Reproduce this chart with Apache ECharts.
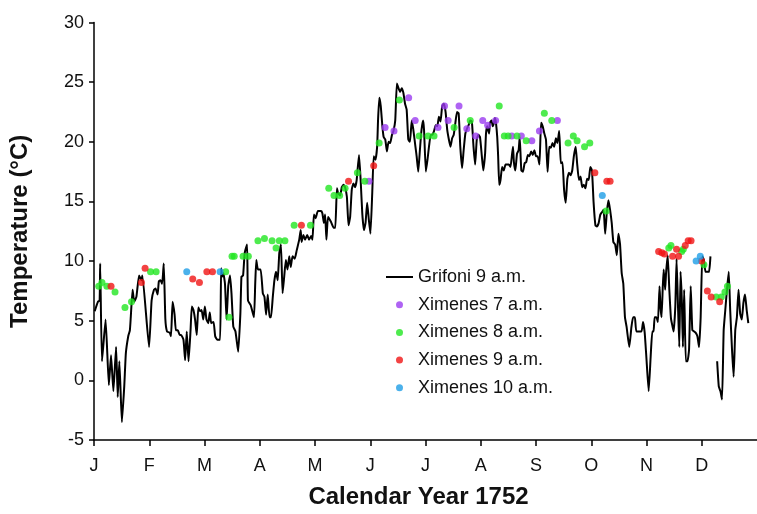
<!DOCTYPE html>
<html><head><meta charset="utf-8">
<script src="https://cdn.jsdelivr.net/npm/echarts@6/dist/echarts.min.js"></script>
<style>html,body{margin:0;padding:0;background:#fff}#c{width:757px;height:514px}</style>
</head><body><div id="c"></div>
<script>
// Day of year 1752 (0 = 1 Jan) and temperature (°C)
const monthLabels = ['J','F','M','A','M','J','J','A','S','O','N','D'];
const daysPerTick = 30.5;
const grifoni = [[0.4,5.8],[2.2,6.6],[3.1,6.7],[3.4,9.8],[4.4,1.6],[6.4,5.1],[8.2,-0.4],[9.4,2.1],[10.7,-0.9],[12.2,2.8],[13.1,-1.4],[14.0,1.6],[15.4,-3.5],[16.7,-0.5],[17.6,2.3],[18.9,3.7],[19.8,4.2],[20.3,5.3],[21.3,7.6],[22.2,6.6],[23.4,7.0],[24.9,8.8],[26.2,8.4],[26.7,8.8],[30.4,2.8],[31.8,6.7],[33.1,7.6],[34.0,7.7],[35.1,7.2],[35.8,8.3],[36.7,8.4],[37.6,8.1],[38.5,9.8],[39.4,5.1],[40.3,4.1],[41.8,4.0],[42.5,3.7],[43.4,6.6],[44.5,5.5],[45.2,4.2],[46.3,4.2],[47.3,3.8],[48.1,3.8],[49.4,3.4],[50.3,1.7],[51.2,4.1],[52.2,1.6],[53.3,4.2],[54.0,6.2],[54.9,5.9],[55.8,5.1],[56.7,3.8],[57.6,6.1],[58.5,5.8],[59.4,5.9],[60.3,5.1],[61.2,6.2],[62.1,5.1],[63.1,4.8],[63.9,5.7],[64.7,4.8],[66.0,4.9],[66.9,3.7],[68.1,3.4],[69.6,3.4],[70.2,9.4],[70.9,8.7],[71.4,9.0],[72.3,8.1],[73.2,5.1],[74.1,7.9],[75.1,8.8],[75.9,7.3],[76.9,4.5],[78.1,4.1],[79.6,2.4],[80.8,5.6],[81.4,8.7],[82.3,8.8],[83.2,10.7],[84.5,11.4],[85.0,6.7],[86.5,6.3],[88.3,5.3],[89.0,8.1],[89.6,10.1],[90.5,9.3],[92.0,9.3],[93.2,7.3],[94.1,7.0],[95.0,5.5],[95.9,7.2],[96.9,5.3],[97.7,5.3],[98.7,7.0],[99.6,8.4],[100.5,9.1],[101.4,8.4],[102.3,10.7],[103.2,11.4],[104.1,7.3],[105.0,8.7],[105.9,10.1],[106.8,9.3],[107.8,10.4],[108.6,9.5],[109.6,10.4],[110.8,10.2],[111.9,10.9],[113.3,11.8],[114.1,12.6],[114.6,11.6],[115.6,12.2],[116.5,11.8],[117.7,12.2],[118.7,11.8],[119.9,12.1],[120.6,11.8],[121.4,13.9],[122.3,13.6],[123.6,14.2],[125.4,14.2],[126.1,14.0],[126.9,13.2],[127.6,13.9],[128.3,11.8],[129.2,13.7],[130.8,13.3],[132.3,12.8],[133.2,12.8],[134.1,16.1],[134.8,15.7],[135.9,15.5],[136.8,16.2],[137.8,16.4],[138.6,16.2],[139.6,15.4],[140.5,13.0],[141.4,13.7],[142.3,16.0],[143.2,16.5],[144.1,16.2],[145.0,16.8],[146.3,18.9],[147.2,16.8],[148.1,14.0],[149.0,12.6],[149.9,13.2],[150.8,14.9],[151.7,13.5],[152.6,12.3],[153.6,15.7],[154.4,18.8],[155.4,18.5],[156.3,19.6],[156.8,21.8],[157.5,23.7],[158.3,23.0],[159.2,21.3],[159.9,20.4],[160.8,20.2],[161.7,19.2],[162.6,20.0],[163.5,19.9],[164.5,20.6],[165.3,20.9],[166.3,21.8],[167.2,24.9],[168.1,24.5],[169.0,24.2],[169.9,24.5],[170.8,24.1],[171.7,23.2],[172.6,22.7],[173.5,20.2],[174.4,20.0],[175.4,21.8],[176.2,21.1],[177.2,19.9],[178.1,18.8],[179.0,17.5],[179.9,19.3],[180.8,21.0],[181.7,21.8],[182.2,21.0],[183.2,17.5],[184.1,18.5],[185.0,19.7],[185.9,20.6],[186.8,20.6],[187.7,20.9],[188.6,21.4],[189.5,21.3],[190.4,22.1],[191.3,21.7],[192.2,23.0],[193.1,23.2],[194.1,22.5],[195.0,21.0],[195.9,20.2],[196.8,19.6],[197.7,20.3],[198.6,20.6],[199.5,21.6],[200.4,22.5],[201.3,22.4],[202.2,19.6],[203.2,17.8],[204.0,19.2],[205.0,20.7],[205.9,21.1],[206.8,21.4],[207.7,21.8],[208.6,21.7],[209.5,19.6],[210.4,18.1],[211.3,20.2],[212.2,20.6],[213.1,20.4],[214.1,18.8],[214.9,17.6],[215.9,19.0],[216.4,20.7],[217.1,21.3],[218.1,20.7],[218.6,21.6],[219.5,21.8],[220.1,21.3],[220.8,21.6],[221.3,22.0],[221.9,21.6],[222.6,20.4],[223.1,18.8],[223.7,16.4],[224.4,16.8],[225.3,17.9],[226.2,17.6],[227.2,18.1],[229.0,18.1],[229.9,17.9],[230.8,19.0],[231.3,19.6],[231.8,18.3],[232.6,17.6],[233.5,19.0],[234.4,19.3],[235.0,20.4],[235.9,17.6],[236.8,17.5],[237.7,18.2],[238.6,18.3],[239.5,18.9],[240.4,18.8],[241.3,19.2],[242.2,18.9],[243.1,19.3],[244.0,18.8],[244.9,18.8],[245.9,18.1],[246.8,21.6],[247.7,21.3],[248.6,20.7],[249.5,20.2],[250.4,17.5],[251.3,19.6],[252.2,19.5],[253.1,19.9],[254.0,19.6],[255.0,20.3],[255.8,19.9],[256.8,20.9],[257.7,18.2],[258.6,18.3],[259.5,16.0],[260.4,14.9],[261.3,16.9],[262.2,17.4],[263.1,17.2],[264.0,17.6],[264.9,18.8],[265.9,19.6],[266.7,18.2],[267.7,16.8],[268.6,17.1],[269.5,16.2],[270.4,16.4],[271.3,16.1],[272.2,16.9],[273.1,16.8],[274.0,17.9],[274.9,17.6],[275.8,14.9],[276.8,13.0],[277.6,12.9],[278.6,13.2],[279.5,13.9],[280.4,14.1],[281.3,14.3],[282.2,12.3],[283.1,14.1],[284.0,15.1],[284.9,14.3],[285.8,13.2],[286.7,11.6],[287.7,11.4],[288.6,10.5],[289.5,12.3],[290.4,11.4],[291.3,9.0],[292.2,8.1],[293.1,5.3],[294.0,4.5],[295.5,2.8],[296.7,4.5],[297.6,5.3],[298.6,5.3],[299.4,4.1],[302.2,4.1],[303.1,4.9],[304.0,4.0],[304.9,2.0],[306.2,-0.9],[307.3,2.0],[308.2,4.1],[308.9,4.1],[309.5,5.3],[310.4,5.3],[311.3,4.9],[312.2,7.9],[312.7,6.2],[313.3,5.3],[314.0,7.9],[314.5,9.3],[315.3,7.6],[315.8,9.0],[316.7,10.5],[317.6,7.6],[318.5,5.2],[319.4,4.5],[320.0,4.1],[320.9,6.2],[321.6,10.2],[322.3,6.7],[323.1,2.8],[323.8,9.1],[324.5,6.7],[325.1,2.8],[325.8,7.6],[326.7,1.6],[327.6,1.6],[328.5,2.6],[329.4,7.9],[330.3,4.2],[331.3,4.1],[332.1,4.0],[333.1,3.7],[334.0,2.8],[334.9,5.3],[335.8,10.4],[336.7,10.1],[337.6,9.1],[339.5,9.1],[340.3,10.4],[342.0,null],[344.0,1.6],[344.9,-0.5],[345.8,-0.9],[346.7,-1.6],[347.6,4.2],[348.5,5.9],[349.4,7.6],[350.4,9.1],[351.2,5.9],[352.2,2.6],[353.1,0.3],[354.0,4.2],[354.9,5.3],[355.8,7.6],[356.7,5.6],[357.6,5.1],[358.5,6.5],[359.4,7.2],[360.3,5.9],[361.2,4.8]];
const ximenes7 = [[151.8,16.7],[160.7,21.2],[165.6,20.9],[173.7,23.7],[177.3,21.8],[189.9,21.2],[193.5,23.0],[195.5,21.8],[201.5,23.0],[205.8,21.1],[210.7,20.5],[214.6,21.8],[217.3,21.4],[221.7,21.8],[230.6,20.5],[235.9,20.5],[241.7,20.1],[245.9,20.9],[255.8,21.8]];
const ximenes8 = [[2.6,7.9],[4.4,8.2],[7.1,7.9],[11.6,7.4],[17.1,6.1],[20.7,6.6],[31.2,9.1],[34.3,9.1],[72.7,9.1],[74.5,5.3],[76.2,10.4],[77.4,10.4],[82.3,10.4],[85.2,10.4],[90.5,11.7],[94.1,11.9],[98.3,11.7],[100.5,11.1],[102.3,11.7],[105.4,11.7],[110.5,13.0],[119.5,13.0],[129.6,16.1],[132.5,15.5],[135.6,15.5],[138.6,16.1],[145.4,17.4],[149.5,16.7],[157.4,19.9],[168.6,23.5],[179.5,20.5],[184.4,20.5],[187.7,20.5],[198.8,21.2],[207.7,21.8],[223.7,23.0],[226.5,20.5],[228.6,20.5],[233.5,20.5],[238.6,20.1],[248.6,22.4],[252.7,21.8],[261.7,19.9],[264.6,20.5],[266.7,20.1],[270.8,19.6],[273.7,19.9],[282.7,14.2],[317.3,11.1],[318.5,11.3],[324.4,10.8],[325.3,11.0],[336.7,9.7],[343.5,7.0],[346.3,7.0],[348.3,7.4],[349.7,7.9]];
const ximenes9 = [[9.4,7.9],[26.2,8.2],[28.2,9.4],[54.5,8.5],[58.2,8.2],[62.3,9.1],[65.4,9.1],[114.5,13.0],[140.5,16.7],[154.4,18.0],[276.5,17.4],[283.1,16.7],[284.9,16.7],[311.7,10.8],[313.5,10.7],[314.9,10.6],[319.4,10.4],[321.6,11.0],[322.7,10.4],[326.4,11.3],[328.0,11.7],[329.6,11.7],[335.4,10.0],[338.6,7.5],[340.7,7.0],[345.4,6.6]];
const ximenes10 = [[51.2,9.1],[69.6,9.1],[280.6,15.5],[332.4,10.0],[334.7,10.4]];
const yTicks = {min:-5, max:30, step:5};

const chart = echarts.init(document.getElementById('c'), null, {renderer:'canvas'});
const font = 'Liberation Sans, Arial, sans-serif';
const dot = (name, data, color) => ({
  name, type:'scatter', data, symbol:'circle', symbolSize:7,
  itemStyle:{color}, z:3, animation:false
});
chart.setOption({
  animation:false,
  textStyle:{fontFamily:font},
  grid:{left:94, right:-8, top:22.6, bottom:73.7, containLabel:false},
  xAxis:{
    type:'value', min:0, max:366, interval:daysPerTick,
    name:'Calendar Year 1752', nameLocation:'middle', nameGap:45,
    nameTextStyle:{fontFamily:font, fontSize:24, fontWeight:'bold', color:'#111', padding:[0,14,0,0]},
    axisLine:{onZero:false, lineStyle:{color:'#000', width:1.5}},
    axisTick:{show:true, length:6, lineStyle:{color:'#000', width:1.5}},
    axisLabel:{margin:17, fontSize:18, color:'#111', fontFamily:font,
      showMaxLabel:false,
      formatter:v=>{const i=Math.round(v/daysPerTick); return (Math.abs(i*daysPerTick-v)<0.01 && i<12)?monthLabels[i]:'';}},
    splitLine:{show:false}
  },
  yAxis:{
    type:'value', min:yTicks.min, max:yTicks.max, interval:yTicks.step,
    name:'Temperature (°C)', nameLocation:'middle', nameGap:62, nameRotate:90,
    nameTextStyle:{fontFamily:font, fontSize:24, fontWeight:'bold', color:'#111'},
    axisLine:{show:true, onZero:false, lineStyle:{color:'#000', width:1.5}},
    axisTick:{show:true, length:5, lineStyle:{color:'#000', width:1.5}},
    axisLabel:{margin:10, fontSize:18, color:'#111', fontFamily:font},
    splitLine:{show:false}
  },
  legend:{
    orient:'vertical', left:381, top:263, itemWidth:27, itemHeight:7, itemGap:9.7,
    textStyle:{fontFamily:font, fontSize:18, color:'#111', lineHeight:18},
    data:[
      {name:'Grifoni 9 a.m.', icon:'path://M0,0H27V2H0Z', itemStyle:{color:'#000', borderWidth:0}},
      'Ximenes 7 a.m.','Ximenes 8 a.m.','Ximenes 9 a.m.','Ximenes 10 a.m.']
  },
  series:[
    {name:'Grifoni 9 a.m.', type:'line', data:grifoni, symbol:'none', showSymbol:false,
     smooth:0.15, connectNulls:false, lineStyle:{color:'#000', width:2}, itemStyle:{color:'#000'}, z:2},
    dot('Ximenes 7 a.m.', ximenes7, '#9b3cf0'),
    dot('Ximenes 8 a.m.', ximenes8, '#22e622'),
    dot('Ximenes 9 a.m.', ximenes9, '#f01414'),
    dot('Ximenes 10 a.m.', ximenes10, '#1e9ee6')
  ]
});
</script></body></html>
